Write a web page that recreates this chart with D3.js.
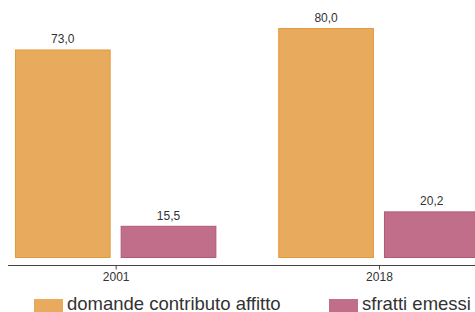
<!DOCTYPE html>
<html>
<head>
<meta charset="utf-8">
<script src="https://cdn.jsdelivr.net/npm/d3@7"></script>
<style>
  body { margin: 0; background: #fff; }
  svg { display: block; font-family: "Liberation Sans", Arial, sans-serif; }
</style>
</head>
<body>
<div id="chart"></div>
<script>
// data
const years = ["2001", "2018"];
const series = ["domande contributo affitto", "sfratti emessi"];
const domande = [73.0, 80.0];
const sfratti = [15.5, 20.2];
const colours = ["#e8aa5c", "#c06e8a"];
const strokes = ["#e29a3c", "#b0587a"];

const width = 475, height = 312;
const baseY = 258, axisY = 265.5;

const svg = d3.select("#chart")
    .append("svg")
    .attr("width", width)
    .attr("height", height);

// scales
const x0 = d3.scaleBand()
    .domain(years)
    .range([-16, 510.6])
    .paddingInner(0.235)
    .paddingOuter(0.1175);

const x1 = d3.scaleBand()
    .domain(series)
    .range([0, x0.bandwidth()])
    .paddingInner(0.0946);

const y = d3.scaleLinear()
    .domain([5, 80])
    .range([baseY, 28]);

const rows = years.map((yr, i) => ({
    year: yr,
    values: [
        { key: series[0], value: domande[i], c: 0 },
        { key: series[1], value: sfratti[i], c: 1 }
    ]
}));

const fmt = v => d3.format(".1f")(v).replace(".", ",");

// bars
const groups = svg.selectAll("g.grp")
    .data(rows)
    .join("g")
    .attr("class", "grp")
    .attr("transform", d => `translate(${x0(d.year)},0)`);

groups.selectAll("rect")
    .data(d => d.values)
    .join("rect")
        .attr("x", d => x1(d.key) + 0.5)
        .attr("y", d => y(d.value) + 0.5)
        .attr("width", x1.bandwidth() - 1)
        .attr("height", d => baseY - y(d.value) - 1)
        .attr("fill", d => colours[d.c])
        .attr("stroke", d => strokes[d.c])
        .attr("stroke-width", 1);

groups.selectAll("text")
    .data(d => d.values)
    .join("text")
        .attr("x", d => x1(d.key) + x1.bandwidth() / 2)
        .attr("y", d => y(d.value) - 6)
        .attr("text-anchor", "middle")
        .attr("font-size", 12)
        .attr("fill", "#333")
        .text(d => fmt(d.value));

// bottom axis
const axisScale = d3.scalePoint()
    .domain(years)
    .range([x0(years[0]) + x0.bandwidth() / 2, x0(years[1]) + x0.bandwidth() / 2]);

const axis = svg.append("g")
    .attr("transform", `translate(0,${axisY})`)
    .call(d3.axisBottom(axisScale).tickSize(4).tickSizeOuter(0).tickPadding(3));

axis.select(".domain").remove();
axis.append("line")
    .attr("x1", 8).attr("x2", width)
    .attr("stroke", "#444");
axis.selectAll(".tick line").attr("stroke", "#444");
axis.selectAll(".tick text")
    .attr("font-size", 12)
    .attr("font-family", "Liberation Sans, Arial, sans-serif")
    .attr("fill", "#333");

// legend
const legendX = [34, 329];
const legend = svg.selectAll("g.leg")
    .data(series)
    .join("g")
    .attr("class", "leg")
    .attr("transform", (d, i) => `translate(${legendX[i]},299)`);

legend.append("rect")
    .attr("width", 29)
    .attr("height", 15)
    .attr("fill", (d, i) => colours[i]);

legend.append("text")
    .attr("x", 33)
    .attr("y", 11)
    .attr("font-size", 18.5)
    .attr("fill", "#333")
    .text(d => d);
</script>
</body>
</html>
